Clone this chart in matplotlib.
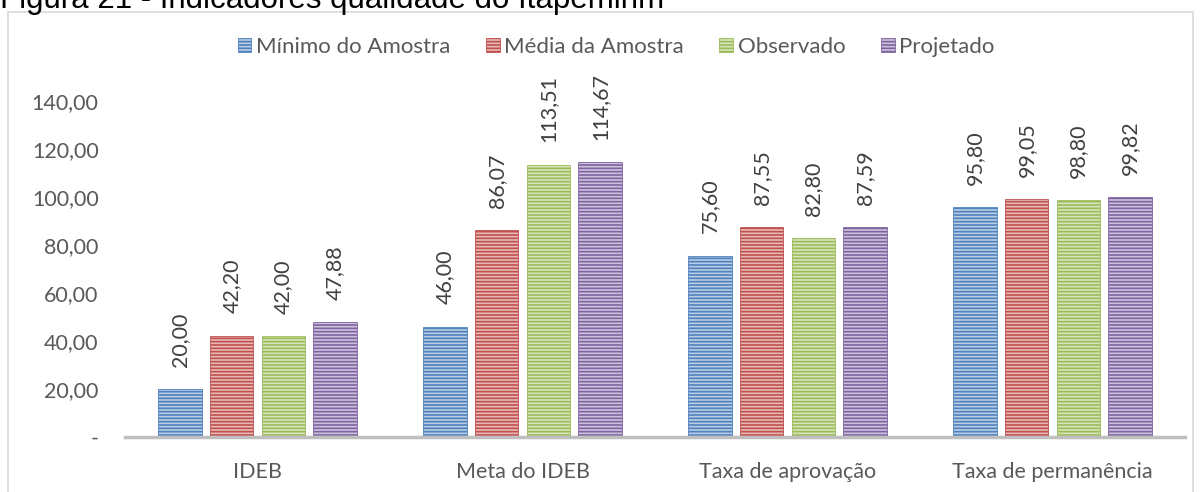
import numpy as np
import matplotlib
matplotlib.use('Agg')
import matplotlib.pyplot as plt
from matplotlib.patches import Rectangle

# data
categories = ['IDEB', 'Meta do IDEB', 'Taxa de aprovação', 'Taxa de permanência']
series = ['Mínimo do Amostra', 'Média da Amostra', 'Observado', 'Projetado']
minimo = [20.00, 46.00, 75.60, 95.80]
media = [42.20, 86.07, 87.55, 99.05]
observado = [42.00, 113.51, 82.80, 98.80]
projetado = [47.88, 114.67, 87.59, 99.82]
yticks = [0, 20, 40, 60, 80, 100, 120, 140]

dark = ['#4F81BD', '#C0504D', '#9BBB59', '#8064A2']
light = ['#B9CDE5', '#E6B9B8', '#D7E4BD', '#CCC1DA']

plt.rcParams['font.family'] = ['Lato', 'DejaVu Sans']
plt.rcParams['hatch.linewidth'] = 1.2
fs = 15.5

fig = plt.figure(figsize=(12.03, 4.92), dpi=100)
W, H = 1203, 492
ax = fig.add_axes([125 / W, 1 - 437 / H, 1060 / W, 384 / H])

x = np.arange(len(categories))
width = 0.163
pitch = 0.195
for i, vals in enumerate([minimo, media, observado, projetado]):
    pos = x + (i - 1.5) * pitch
    ax.bar(pos, vals, width, color=light[i], edgecolor=dark[i],
           hatch='-----', linewidth=0.6, label=series[i])
    for p, v in zip(pos, vals):
        ax.annotate(f'{v:.2f}'.replace('.', ','), (p, v), xytext=(0, 16),
                    textcoords='offset points', rotation=90,
                    ha='center', va='bottom', fontsize=fs, color='#404040')

ax.set_xlim(-0.5, 3.5)
ax.set_ylim(0, 160)
ax.set_yticks(yticks)
ax.set_yticklabels(['-'] + [f'{v:.2f}'.replace('.', ',') for v in yticks[1:]])
ax.set_xticks(x)
ax.set_xticklabels(categories)
ax.tick_params(axis='both', length=0, labelsize=fs, labelcolor='#595959')
ax.tick_params(axis='y', pad=19)
ax.tick_params(axis='x', pad=18)
for s in ['top', 'right', 'left']:
    ax.spines[s].set_visible(False)
ax.spines['bottom'].set_color('#BFBFBF')
ax.spines['bottom'].set_linewidth(2.5)

leg = fig.legend(loc='center', bbox_to_anchor=(616 / W, 1 - 47 / H), ncol=4,
                 frameon=False, fontsize=16, handlelength=0.62, handleheight=0.6,
                 handletextpad=0.2, columnspacing=1.6)
for t in leg.get_texts():
    t.set_color('#595959')

# chart frame
fig.patches.append(Rectangle((8 / W, -0.1), 1185 / W, 1.1 - 12 / H,
                             transform=fig.transFigure, fill=False,
                             edgecolor='#D9D9D9', linewidth=1.2, clip_on=False))

fig.text(0, 1 - 8 / H, 'Figura 21 - Indicadores qualidade do Itapemirim',
         family='Liberation Sans', fontsize=22.5, va='baseline', ha='left')

fig.savefig('out.png', dpi=100)
